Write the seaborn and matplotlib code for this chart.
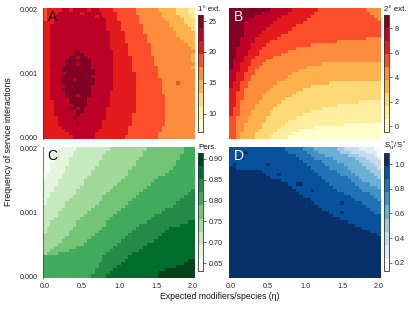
import matplotlib
matplotlib.use("Agg")
import matplotlib.pyplot as plt
from matplotlib.colors import ListedColormap
import numpy as np
import seaborn as sns

sns.set_style("white")
plt.rcParams["font.family"] = ["Liberation Sans", "DejaVu Sans"]
plt.rcParams["mathtext.default"] = "regular"

# grid: 41 columns (eta 0..2 by 0.05) x 41 rows (frequency 0.002 at top .. 0 at bottom)
ETA_STEP = 0.05
FREQ_MAX = 0.002
FREQ_STEP = 0.00005
ETA_TICKS = [0.0, 0.5, 1.0, 1.5, 2.0]
FREQ_TICKS = [0.002, 0.001, 0.000]

# cells as colour-bin runs, "bin x count", read row by row from the top
A_LEVELS = [
    "5x1 6x4 7x2 6x1 7x4 6x1 7x2 6x4 5x6 4x6 3x5 2x3 1x2",
    "5x1 6x3 7x6 6x1 7x5 6x4 5x5 4x7 3x4 2x3 1x2",
    "5x1 6x2 7x11 6x1 7x1 6x4 5x6 4x6 3x5 2x3 1x1",
    "5x1 6x2 7x14 6x3 5x6 4x7 3x5 2x3",
    "6x3 7x14 6x4 5x5 4x8 3x4 2x3",
    "6x2 7x15 6x4 5x6 4x7 3x5 2x2",
    "6x2 7x15 6x4 5x6 4x8 3x5 2x1",
    "6x2 7x16 6x4 5x5 4x9 3x5",
    "6x2 7x16 6x4 5x6 4x8 3x5",
    "6x2 7x16 6x4 5x6 4x9 3x4",
    "6x2 7x16 6x4 5x6 4x10 3x3",
    "6x2 7x16 6x5 5x6 4x10 3x2",
    "6x2 7x16 6x5 5x6 4x11 3x1",
    "6x2 7x7 8x1 7x9 6x4 5x6 4x12",
    "6x2 7x6 8x3 7x8 6x4 5x6 4x11 3x1",
    "6x2 7x5 8x2 7x1 8x2 7x7 6x5 5x6 4x10 3x1",
    "6x2 7x4 8x7 7x6 6x5 5x6 4x10 3x1",
    "6x2 7x4 8x3 7x1 8x3 7x6 6x5 5x6 4x11",
    "6x2 7x3 8x8 7x6 6x5 5x7 4x9 3x1",
    "6x2 7x3 8x9 7x5 6x5 5x7 4x10",
    "6x2 7x4 8x8 7x5 6x6 5x6 4x10",
    "6x2 7x3 8x8 7x6 6x6 5x6 4x10",
    "6x2 7x3 8x3 7x1 8x5 7x5 6x6 5x7 4x9",
    "6x2 7x3 8x9 7x5 6x6 5x7 4x4 5x1 4x4",
    "6x2 7x4 8x7 7x6 6x6 5x7 4x9",
    "6x2 7x3 8x8 7x6 6x6 5x7 4x9",
    "6x2 7x4 8x7 7x5 6x7 5x7 4x9",
    "6x2 7x4 8x3 7x1 8x3 7x5 6x7 5x8 4x8",
    "6x2 7x5 8x5 7x6 6x7 5x8 4x8",
    "6x3 7x4 8x5 7x6 6x7 5x8 4x8",
    "6x3 7x5 8x4 7x6 6x7 5x8 4x8",
    "6x3 7x4 8x2 7x1 8x1 7x6 6x8 5x8 4x8",
    "6x3 7x6 8x2 7x6 6x8 5x8 4x8",
    "6x3 7x6 8x1 7x7 6x7 5x9 4x8",
    "6x4 7x4 8x1 7x8 6x7 5x9 4x8",
    "6x4 7x12 6x8 5x9 4x8",
    "6x4 7x5 8x1 7x6 6x8 5x9 4x8",
    "6x5 7x11 6x7 5x9 4x9",
    "6x6 7x9 6x8 5x9 4x9",
    "6x7 7x7 6x9 5x8 4x10",
    "6x8 7x6 6x8 5x9 4x10",
]

B_LEVELS = [
    "8x11 7x6 6x7 5x13 4x4",
    "8x9 7x7 6x7 5x15 4x3",
    "8x7 7x7 6x8 5x17 4x2",
    "8x5 7x8 6x8 5x19 4x1",
    "8x4 7x8 6x8 5x21",
    "8x4 7x7 6x7 5x23",
    "8x4 7x6 6x7 5x24",
    "8x4 7x5 6x7 5x25",
    "8x4 7x4 6x6 5x27",
    "8x3 7x4 6x6 5x24 4x4",
    "8x3 7x4 6x4 5x18 4x12",
    "8x3 7x3 6x4 5x12 4x19",
    "8x2 7x4 6x3 5x9 4x23",
    "8x2 7x3 6x3 5x8 4x25",
    "8x2 7x3 6x3 5x6 4x27",
    "8x2 7x2 6x3 5x5 4x29",
    "8x1 7x3 6x2 5x4 4x31",
    "8x1 7x2 6x3 5x3 4x16 3x16",
    "8x1 7x2 6x2 5x3 4x13 3x20",
    "7x3 6x2 5x2 4x12 3x22",
    "7x2 6x2 5x3 4x10 3x24",
    "7x2 6x2 5x2 4x10 3x25",
    "7x2 6x2 5x2 4x9 3x26",
    "7x1 6x2 5x2 4x8 3x14 2x14",
    "7x1 6x2 5x2 4x7 3x10 2x19",
    "6x3 5x1 4x7 3x9 2x21",
    "6x2 5x2 4x6 3x8 2x23",
    "6x2 5x2 4x5 3x8 2x24",
    "6x2 5x2 4x5 3x6 2x26",
    "6x2 5x1 4x5 3x6 2x21 1x6",
    "6x2 5x1 4x4 3x6 2x16 1x12",
    "6x1 5x2 4x4 3x5 2x13 1x16",
    "6x1 5x2 4x3 3x5 2x11 1x19",
    "6x1 5x2 4x3 3x5 2x9 1x21",
    "5x2 4x3 3x5 2x8 1x23",
    "5x2 4x3 3x5 2x6 1x25",
    "5x2 4x2 3x5 2x6 1x16 0x10",
    "5x2 4x2 3x5 2x5 1x9 0x18",
    "5x2 4x2 3x4 2x5 1x6 0x22",
    "5x2 4x1 3x4 2x5 1x5 0x24",
    "5x2 4x1 3x4 2x4 1x5 0x25",
]

C_LEVELS = [
    "0x4 1x5 2x9 3x10 4x10 5x3",
    "0x4 1x4 2x9 3x10 4x11 5x3",
    "0x3 1x5 2x8 3x11 4x10 5x4",
    "0x3 1x4 2x9 3x10 4x11 5x4",
    "0x3 1x4 2x8 3x10 4x11 5x5",
    "0x2 1x5 2x8 3x10 4x11 5x5",
    "0x2 1x4 2x8 3x10 4x11 5x6",
    "0x2 1x4 2x7 3x10 4x11 5x7",
    "0x1 1x4 2x8 3x10 4x10 5x8",
    "0x1 1x4 2x7 3x10 4x9 5x10",
    "1x4 2x7 3x10 4x9 5x11",
    "1x4 2x7 3x9 4x9 5x12",
    "1x3 2x7 3x9 4x9 5x13",
    "1x3 2x6 3x9 4x9 5x13 6x1",
    "1x2 2x7 3x8 4x9 5x13 6x2",
    "1x2 2x6 3x8 4x9 5x13 6x3",
    "1x1 2x6 3x9 4x8 5x13 6x4",
    "1x1 2x5 3x9 4x8 5x13 6x5",
    "2x6 3x8 4x8 5x13 6x6",
    "2x5 3x8 4x8 5x12 6x8",
    "2x4 3x8 4x8 5x12 6x9",
    "2x4 3x7 4x8 5x11 6x11",
    "2x3 3x7 4x8 5x11 6x12",
    "2x2 3x7 4x8 5x11 6x11 7x2",
    "2x2 3x7 4x8 5x9 6x11 7x4",
    "2x1 3x7 4x8 5x9 6x9 7x7",
    "2x1 3x6 4x8 5x9 6x9 7x8",
    "3x7 4x7 5x9 6x9 7x9",
    "3x6 4x7 5x9 6x9 7x10",
    "3x5 4x7 5x9 6x9 7x11",
    "3x4 4x7 5x9 6x8 7x13",
    "3x3 4x6 5x10 6x8 7x14",
    "3x2 4x5 5x11 6x8 7x15",
    "3x1 4x3 5x13 6x7 7x17",
    "5x16 6x7 7x18",
    "5x16 6x6 7x17 8x2",
    "5x15 6x6 7x17 8x3",
    "5x15 6x5 7x16 8x5",
    "5x14 6x5 7x14 8x8",
    "5x14 6x4 7x13 8x10",
    "5x13 6x4 7x14 8x10",
]

D_LEVELS = [
    "7x15 6x5 5x3 4x6 3x2 2x4 1x4 0x2",
    "7x4 8x1 7x11 6x5 5x3 4x6 3x3 2x4 1x3 0x1",
    "7x18 6x4 5x4 4x6 3x3 2x4 1x1 0x1",
    "7x2 8x2 7x15 6x4 5x5 4x6 3x3 2x3 1x1",
    "7x20 6x5 5x4 4x6 3x3 2x3",
    "7x1 8x1 7x8 8x1 7x10 6x5 5x5 4x5 3x3 2x2",
    "8x2 7x20 6x5 5x5 4x5 3x3 2x1",
    "8x9 7x14 6x6 5x4 4x5 3x3",
    "8x10 7x3 8x1 7x10 6x6 5x4 4x5 3x2",
    "8x11 7x14 6x7 5x3 4x5 3x1",
    "8x14 7x12 6x7 5x3 4x5",
    "8x16 7x2 8x2 7x7 6x7 5x4 4x3",
    "8x17 7x11 6x7 5x5 4x1",
    "8x18 7x4 8x1 7x6 6x7 5x5",
    "8x19 7x12 6x7 5x3",
    "8x20 7x13 6x6 5x2",
    "8x22 7x12 6x6 5x1",
    "8x23 7x7 8x1 7x5 6x5",
    "8x24 7x13 6x4",
    "8x25 7x13 6x3",
    "8x27 7x3 8x1 7x8 6x2",
    "8x28 7x13",
    "8x30 7x11",
    "8x32 7x9",
    "8x34 7x7",
    "8x36 7x5",
    "8x38 7x3",
    "8x40 7x1",
    "8x41", "8x41", "8x41", "8x41", "8x41", "8x41", "8x41",
    "8x41", "8x41", "8x41", "8x41", "8x41", "8x41",
]

# colour bins (9 per bar) and the range each bar covers
YLORRD = ["#ffffcc", "#ffeda0", "#fed976", "#feb24c", "#fd8d3c",
          "#fc4e2a", "#e31a1c", "#bd0026", "#800026"]
GREENS = ["#f7fcf5", "#e5f5e0", "#c7e9c0", "#a1d99b", "#74c476",
          "#41ab5d", "#238b45", "#006d2c", "#00441b"]
BLUES = ["#f7fbff", "#deebf7", "#c6dbef", "#9ecae1", "#6baed6",
         "#4292c6", "#2171b5", "#08519c", "#08306b"]

A_RANGE = (7.0, 26.0)
B_RANGE = (-0.45, 9.1)
C_RANGE = (0.631, 0.914)
D_RANGE = (0.135, 1.089)

A_TICKS = [10, 15, 20, 25]
B_TICKS = [0, 2, 4, 6, 8]
C_TICKS = [0.65, 0.70, 0.75, 0.80, 0.85, 0.90]
D_TICKS = [0.2, 0.4, 0.6, 0.8, 1.0]


def decode(rows, lo, hi):
    grid = []
    for i, row in enumerate(rows):
        cells = []
        for run in row.split():
            level, count = run.split("x")
            cells += [int(level)] * int(count)
        if len(cells) != 41:
            raise ValueError(f"row {i} has {len(cells)} cells")
        grid.append(cells)
    levels = np.array(grid, dtype=float)
    return lo + (levels + 0.5) * (hi - lo) / 9


W, H = 415, 312
fig = plt.figure(figsize=(W / 100, H / 100), dpi=100)


def px_axes(x0, y0, x1, y1):
    return fig.add_axes([x0 / W, 1 - y1 / H, (x1 - x0) / W, (y1 - y0) / H])


panels = [
    # letter, levels, colours, range, ticks, fmt, bar title, letter colour, boxes
    ("A", A_LEVELS, YLORRD, A_RANGE, A_TICKS, "{:.0f}", "1° ext.", "black",
     (43, 8.4, 195, 138.6), (198, 15, 203, 132), True, False),
    ("B", B_LEVELS, YLORRD, B_RANGE, B_TICKS, "{:.0f}", "2° ext.", "white",
     (229, 8.4, 381, 138.6), (384, 15, 389, 132), False, False),
    ("C", C_LEVELS, GREENS, C_RANGE, C_TICKS, "{:.2f}", "Pers.", "black",
     (43, 147.4, 195, 277.6), (198, 153, 203, 271), True, True),
    ("D", D_LEVELS, BLUES, D_RANGE, D_TICKS, "{:.1f}", "S$_u^*$/S$^*$", "white",
     (229, 147.4, 381, 277.6), (384, 153, 389, 271), False, True),
]

tick_kw = dict(length=2.5, width=0.5, pad=1.5, labelsize=5.2,
               colors="#333333", labelcolor="#222222")

for letter, rows, colours, (lo, hi), cticks, fmt, ctitle, lcol, box, cbox, yax, xax in panels:
    ax = px_axes(*box)
    cax = px_axes(*cbox)
    values = decode(rows, lo, hi)
    sns.heatmap(values, ax=ax, cmap=ListedColormap(colours), vmin=lo, vmax=hi,
                cbar_ax=cax, xticklabels=False, yticklabels=False, linewidths=0)

    if xax:
        ax.set_xticks([v / ETA_STEP + 0.5 for v in ETA_TICKS])
        ax.set_xticklabels([f"{v:.1f}" for v in ETA_TICKS])
    else:
        ax.set_xticks([])
    if yax:
        ax.set_yticks([(FREQ_MAX - v) / FREQ_STEP + 0.5 for v in FREQ_TICKS])
        ax.set_yticklabels([f"{v:.3f}" for v in FREQ_TICKS], rotation=0)
        ax.spines["left"].set_visible(True)
        ax.spines["left"].set_color((0.2, 0.2, 0.2, 0.6))
        ax.spines["left"].set_linewidth(0.8)
    else:
        ax.set_yticks([])
    ax.tick_params(**tick_kw)

    ax.text(0.03, 0.985, letter, transform=ax.transAxes, ha="left", va="top",
            fontsize=10, color=lcol)

    cbar = ax.collections[0].colorbar
    cbar.set_ticks(cticks)
    cbar.set_ticklabels([fmt.format(t) for t in cticks])
    cbar.outline.set_edgecolor("#333333")
    cbar.outline.set_linewidth(0.6)
    cax.tick_params(length=2.5, width=0.5, pad=1.5, labelsize=5.2,
                    colors="#333333", labelcolor="#222222")
    cax.set_title(ctitle, loc="left", fontsize=5.7, pad=3, color="#111111")

fig.text(0.02, 0.545, "Frequency of service interactions", rotation=90,
         ha="center", va="center", fontsize=6.3, color="#111111")
fig.text(0.53, 0.051, "Expected modifiers/species (η)", ha="center",
         va="center", fontsize=6.2, color="#111111")

fig.savefig("out.png", dpi=100)
